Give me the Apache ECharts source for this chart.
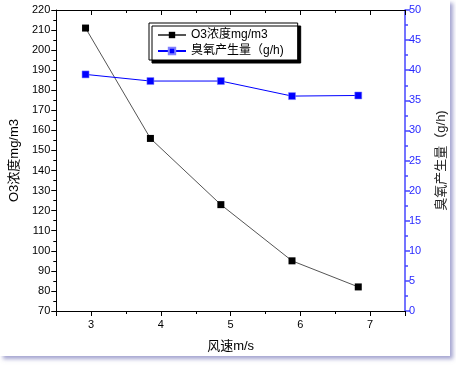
<!DOCTYPE html>
<html><head><meta charset="utf-8">
<style>html,body{margin:0;padding:0;background:#fff}#c{width:456px;height:365px}</style>
<script src="https://cdn.jsdelivr.net/npm/echarts@6/dist/echarts.min.js"></script>
</head><body><div id="c"></div>
<script>
const windSpeed = [2.92, 3.85, 4.86, 5.88, 6.83];
const o3Conc = [211, 156, 123, 95, 82];
const o3Output = [39.3, 38.2, 38.2, 35.7, 35.8];
const names = ['O3浓度mg/m3', '臭氧产生量（g/h)'];
const xName = '风速m/s';

const FONT = 'Arial, "Liberation Sans", "Noto Sans CJK SC", sans-serif';
const chart = echarts.init(document.getElementById('c'), null, {renderer: 'canvas'});
const blue = '#0000ff';
const axisBlue = '#4646ff';
chart.setOption({
  animation: false,
  backgroundColor: '#fff',
  textStyle: {fontFamily: FONT},
  graphic: [{
    type: 'rect', z: -10, silent: true,
    shape: {x: 0, y: 0, width: 450, height: 356},
    style: {fill: '#fff', shadowColor: 'rgba(90,90,170,0.55)', shadowBlur: 4, shadowOffsetX: 3, shadowOffsetY: 3}
  }],
  grid: {left: 55, right: 50, top: 10, bottom: 54, containLabel: false},
  legend: {
    orient: 'vertical', left: 149, top: 23,
    data: names,
    itemWidth: 28, itemHeight: 8, itemGap: 4,
    padding: [6, 14, 3, 8],
    borderColor: '#000', borderWidth: 1, backgroundColor: '#fff',
    shadowColor: '#000', shadowOffsetX: 3, shadowOffsetY: 3, shadowBlur: 0,
    textStyle: {fontSize: 12, color: '#000', fontFamily: FONT}
  },
  xAxis: [{
    type: 'value', min: 2.5, max: 7.5, splitNumber: 5, position: 'bottom',
    name: xName, nameLocation: 'middle', nameGap: 29,
    nameTextStyle: {fontSize: 13, color: '#000', fontFamily: FONT},
    axisLine: {lineStyle: {color: '#000', width: 1}},
    axisTick: {show: true, inside: false, length: 5, lineStyle: {color: '#000'}},
    minorTick: {show: true, splitNumber: 2, length: 3, lineStyle: {color: '#000'}},
    axisLabel: {fontSize: 11, color: '#000', margin: 8, showMinLabel: false, showMaxLabel: false},
    splitLine: {show: false}
  }, {
    type: 'value', min: 2.5, max: 7.5, splitNumber: 5, position: 'top',
    axisLine: {lineStyle: {color: '#000', width: 1}},
    axisTick: {show: true, inside: true, length: 5, lineStyle: {color: '#000'}},
    minorTick: {show: true, splitNumber: 2, length: 3, lineStyle: {color: '#000'}},
    axisLabel: {show: false},
    splitLine: {show: false}
  }],
  yAxis: [{
    type: 'value', min: 70, max: 220, interval: 10, position: 'left',
    name: names[0], nameLocation: 'middle', nameGap: 27, nameRotate: 90,
    nameTextStyle: {fontSize: 13, color: '#000', fontFamily: FONT},
    axisLine: {show: true, lineStyle: {color: '#000', width: 1}},
    axisTick: {show: true, inside: false, length: 5, lineStyle: {color: '#000'}},
    minorTick: {show: true, splitNumber: 2, length: 3, lineStyle: {color: '#000'}},
    axisLabel: {fontSize: 11, color: '#000', margin: 6},
    splitLine: {show: false}
  }, {
    type: 'value', min: 0, max: 50, interval: 5, position: 'right',
    name: names[1], nameLocation: 'middle', nameGap: 30, nameRotate: 90,
    nameTextStyle: {fontSize: 13, color: '#222', fontFamily: FONT},
    axisLine: {show: true, lineStyle: {color: axisBlue, width: 1.5}},
    axisTick: {show: true, inside: false, length: 5, lineStyle: {color: axisBlue, width: 1.5}},
    minorTick: {show: true, splitNumber: 2, length: 3, lineStyle: {color: axisBlue, width: 1.5}},
    axisLabel: {fontSize: 11, color: '#2a2aff', margin: 4},
    splitLine: {show: false}
  }],
  series: [{
    name: names[0], type: 'line', xAxisIndex: 0, yAxisIndex: 0,
    data: windSpeed.map((x, i) => [x, o3Conc[i]]),
    symbol: 'rect', symbolSize: 7, showAllSymbol: true,
    lineStyle: {color: '#555', width: 1},
    itemStyle: {color: '#000', borderColor: '#000', borderWidth: 0}
  }, {
    name: names[1], type: 'line', xAxisIndex: 0, yAxisIndex: 1,
    data: windSpeed.map((x, i) => [x, o3Output[i]]),
    symbol: 'rect', symbolSize: 7, showAllSymbol: true,
    lineStyle: {color: blue, width: 1},
    itemStyle: {color: blue, borderColor: '#8080ff', borderWidth: 0.5}
  }]
});
</script></body></html>
